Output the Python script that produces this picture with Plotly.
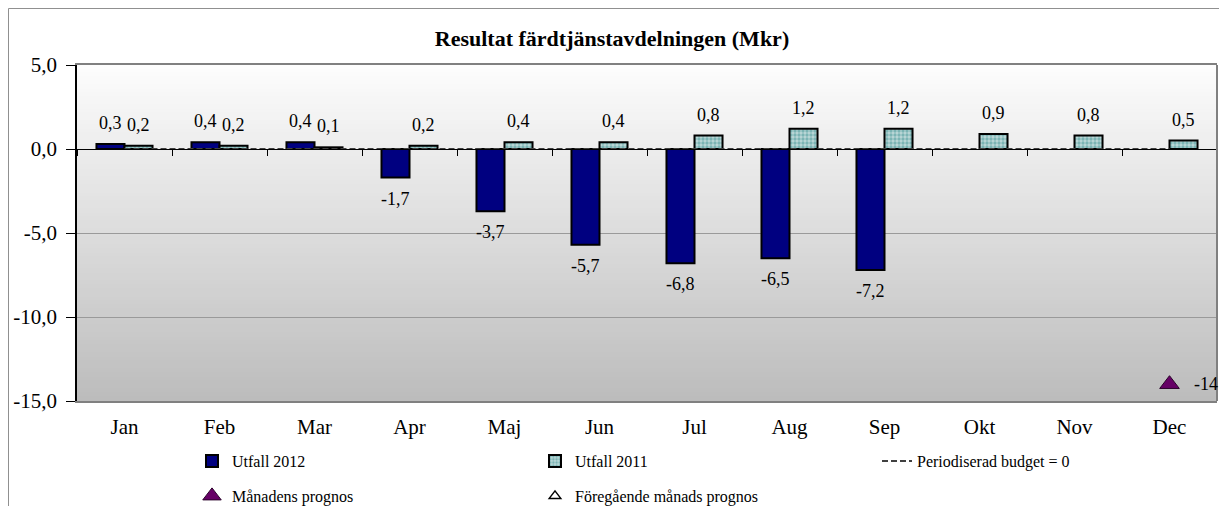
import plotly.graph_objects as go

months = ["Jan", "Feb", "Mar", "Apr", "Maj", "Jun", "Jul", "Aug", "Sep", "Okt", "Nov", "Dec"]
utfall_2012 = [0.3, 0.4, 0.4, -1.7, -3.7, -5.7, -6.8, -6.5, -7.2, None, None, None]
utfall_2011 = [0.2, 0.2, 0.1, 0.2, 0.4, 0.4, 0.8, 1.2, 1.2, 0.9, 0.8, 0.5]
budget = [0, 0, 0, 0, 0, 0, 0, 0, 0, 0, 0, 0]
manadens_prognos = [None, None, None, None, None, None, None, None, None, None, None, -14]
foregaende_prognos = [None] * 12
y_tickvals = [5, 0, -5, -10, -15]
y_ticktext = ["5,0", "0,0", "-5,0", "-10,0", "-15,0"]
title_text = "Resultat färdtjänstavdelningen (Mkr)"

SERIF = "Liberation Serif, Times New Roman, serif"

# page body has an 8px margin; figure is sized to fit the window
W, H = 1219, 498
PL, PT, PW, PH = 69, 57, 1140, 336  # plot area in figure pixels


def fmt(v):
    return f"{v:.1f}".replace(".", ",")


fig = go.Figure()

fig.add_trace(go.Bar(
    x=months, y=utfall_2012, name="Utfall 2012",
    marker=dict(color="#000080", line=dict(color="black", width=2)),
    legend="legend6",
))
fig.add_trace(go.Bar(
    x=months, y=utfall_2011, name="Utfall 2011",
    marker=dict(color="#bcd8d8", line=dict(color="black", width=2),
                pattern=dict(shape=".", bgcolor="#bcd8d8", fgcolor="#3a8f8f",
                             size=4, solidity=0.55)),
    legend="legend2",
))
fig.add_trace(go.Scatter(
    x=months, y=budget, name="Periodiserad budget = 0", mode="lines",
    line=dict(color="#404040", width=2, dash="6px,3px"),
    xaxis="x2", legend="legend3",
))
fig.add_trace(go.Scatter(
    x=months, y=manadens_prognos, name="Månadens prognos", mode="markers",
    marker=dict(symbol="triangle-up", size=17, color="#660066",
                line=dict(color="#2a002a", width=1)),
    cliponaxis=False, legend="legend4",
))
fig.add_trace(go.Scatter(
    x=months, y=foregaende_prognos, name="Föregående månads prognos", mode="markers",
    marker=dict(symbol="triangle-up-open", size=10, color="black",
                line=dict(color="black", width=1.5)),
    legend="legend5",
))

annotations = []
for m, v in zip(months, utfall_2012):
    if v is not None:
        annotations.append(dict(x=m, y=v, text=fmt(v), showarrow=False, xshift=-14,
                                yshift=21 if v >= 0 else -21, yanchor="middle",
                                font=dict(family=SERIF, size=18, color="black")))
for m, v in zip(months, utfall_2011):
    if v is not None:
        annotations.append(dict(x=m, y=v, text=fmt(v), showarrow=False, xshift=14,
                                yshift=21 if v >= 0 else -21, yanchor="middle",
                                font=dict(family=SERIF, size=18, color="black")))
for m, v in zip(months, manadens_prognos):
    if v is not None:
        annotations.append(dict(x=m, y=v, text=f"{v:g}", showarrow=False, xshift=22,
                                xanchor="left", yanchor="middle",
                                font=dict(family=SERIF, size=18, color="black")))

# gradient background of plot area
shapes = []
N = 84
top = (253, 253, 253)
bot = (188, 188, 188)
for i in range(N):
    t = (i + 0.5) / N
    c = tuple(int(round(top[k] + (bot[k] - top[k]) * t)) for k in range(3))
    shapes.append(dict(type="rect", xref="paper", yref="paper", x0=0, x1=1,
                       y0=1 - (i + 1) / N, y1=1 - i / N + 0.002,
                       fillcolor=f"rgb{c}", line=dict(width=0), layer="below"))
# right border of plot area
shapes.append(dict(type="line", xref="paper", yref="paper", x0=1, x1=1, y0=0, y1=1,
                   line=dict(color="#808080", width=2)))
# outer chart frame (left and top edges of the figure)
fx0 = (0.5 - PL) / PW
fy1 = (PT + PH - 0.5) / PH
shapes.append(dict(type="line", xref="paper", yref="paper", x0=fx0, x1=fx0, y0=-0.5, y1=fy1,
                   line=dict(color="#909090", width=1)))
shapes.append(dict(type="line", xref="paper", yref="paper", x0=fx0, x1=1.2, y0=fy1, y1=fy1,
                   line=dict(color="#909090", width=1)))

legend_common = dict(orientation="v", bgcolor="rgba(0,0,0,0)", borderwidth=0,
                     font=dict(family=SERIF, size=16, color="black"),
                     xanchor="left", yanchor="middle", itemclick=False)


def lx(page_x):
    return (page_x - 8 - PL) / PW


def ly(page_y):
    return (PT + PH - (page_y - 8)) / PH


fig.update_layout(
    width=W, height=H,
    margin=dict(l=PL, r=W - PL - PW, t=PT, b=H - PT - PH, autoexpand=False),
    paper_bgcolor="white", plot_bgcolor="white",
    barmode="group", bargap=0.41, bargroupgap=0,
    showlegend=True,
    title=dict(text=f"<b>{title_text}</b>", x=(612 - 8) / W, xref="container", xanchor="center",
               y=1 - (38 - 8) / H, yref="container", yanchor="middle",
               font=dict(family=SERIF, size=22, color="black")),
    xaxis=dict(type="category", categoryorder="array", categoryarray=months,
               range=[-0.5, 11.5], showgrid=False, ticks="", zeroline=False,
               showline=True, linecolor="#808080", linewidth=2, mirror=True,
               tickfont=dict(family=SERIF, size=21, color="black"),
               ticklabelstandoff=6),
    xaxis2=dict(type="category", categoryorder="array", categoryarray=months,
                range=[-0.5, 11.5], overlaying="x", anchor="free", position=0.75,
                side="bottom", showticklabels=False, showgrid=False, zeroline=False,
                showline=True, linecolor="black", linewidth=1,
                ticks="outside", ticklen=6, tickcolor="black", tickwidth=1,
                tickson="boundaries"),
    yaxis=dict(range=[-15, 5], tickvals=y_tickvals, ticktext=y_ticktext,
               showgrid=True, gridcolor="#9a9a9a", gridwidth=1, zeroline=False,
               showline=True, linecolor="black", linewidth=1.5,
               ticks="outside", ticklen=9, tickcolor="black",
               tickfont=dict(family=SERIF, size=21, color="black"),
               ticklabelstandoff=5),
    shapes=shapes,
    annotations=annotations,
    legend=dict(visible=False),
    legend6=dict(**legend_common, x=lx(192), y=ly(461)),
    legend2=dict(**legend_common, x=lx(535), y=ly(461)),
    legend3=dict(**legend_common, x=lx(877), y=ly(461)),
    legend4=dict(**legend_common, x=lx(192), y=ly(496)),
    legend5=dict(**legend_common, x=lx(535), y=ly(496)),
)

fig.write_html("out.html")
